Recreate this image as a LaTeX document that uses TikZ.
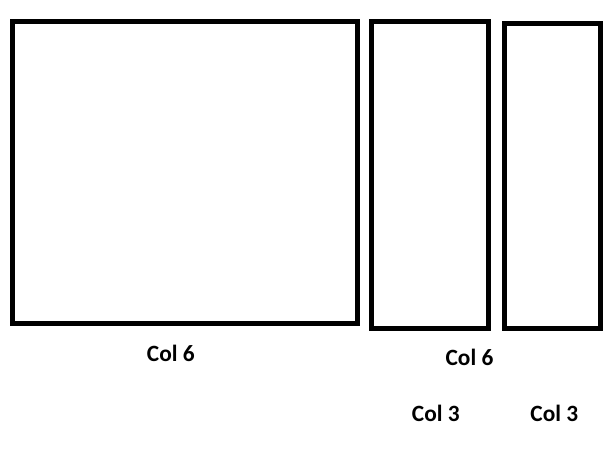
\documentclass[tikz,border=0pt]{standalone}
\usepackage{fontspec}
\setmainfont{Carlito}
\begin{document}
\begin{tikzpicture}[x=0.75pt,y=-0.75pt]
\tikzstyle{box}=[draw, line width=3.75pt, inner sep=0pt];
\tikzstyle{lbl}=[font=\fontsize{17.5}{21}\selectfont\bfseries, anchor=base, inner sep=0pt];
\useasboundingbox (0,0) rectangle (614,460);
\node (C6big) [box, minimum width=258.75pt, minimum height=226.125pt] at (185,172.25) {};
\node (C6mid) [box, minimum width=87.75pt, minimum height=229.875pt] at (430,174.75) {};
\node (C3end) [box, minimum width=72pt, minimum height=229.125pt] at (552.5,176) {};
\node (L6a) [lbl] at (170.8,361) {Col 6};
\node (L6b) [lbl] at (469.5,365) {Col 6};
\node (L3a) [lbl] at (435.8,421.7) {Col 3};
\node (L3b) [lbl] at (554.3,421.7) {Col 3};
\end{tikzpicture}
\end{document}
